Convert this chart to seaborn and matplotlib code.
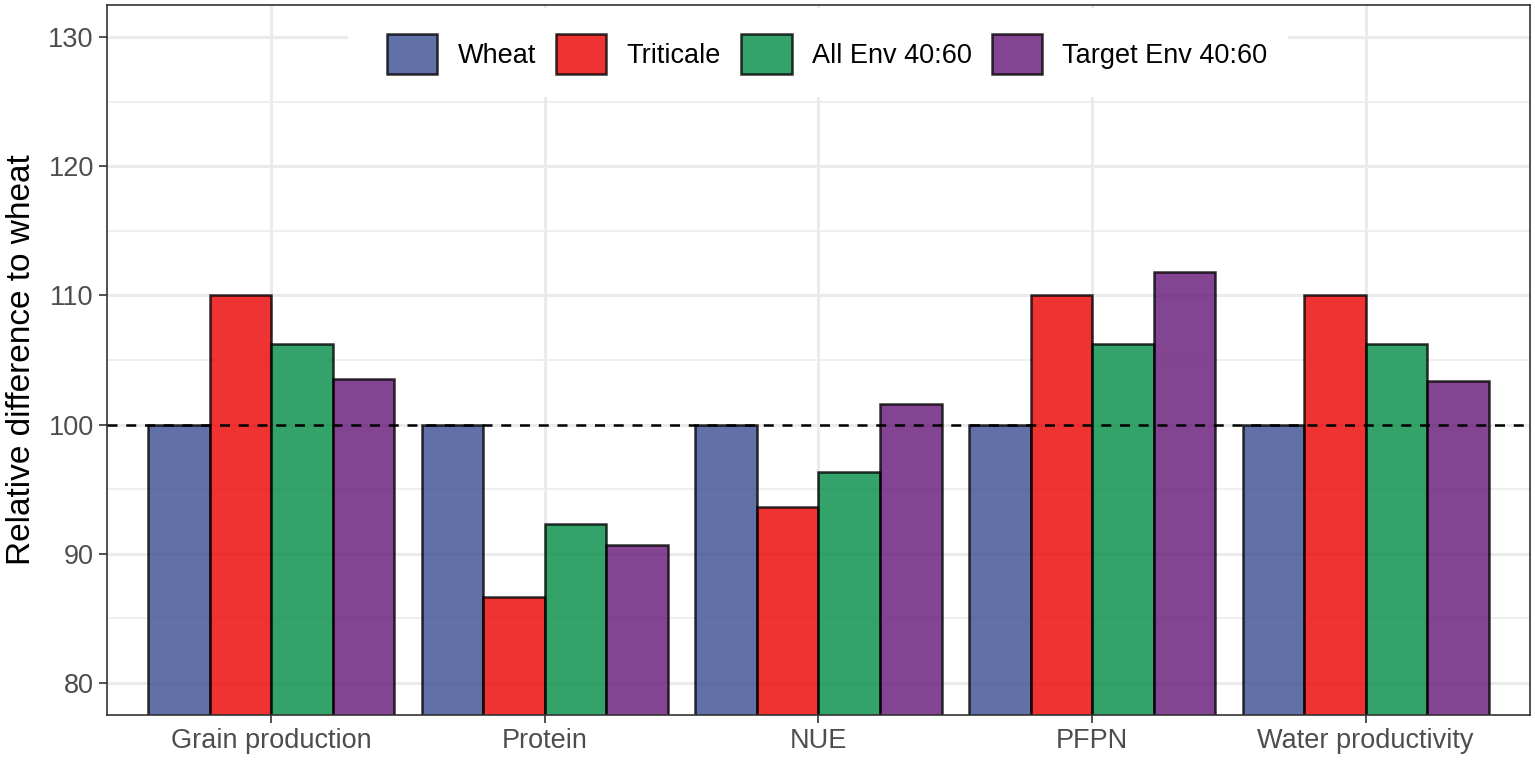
import pandas as pd
import numpy as np
import matplotlib.pyplot as plt
import seaborn as sns
from matplotlib.patches import Patch, Rectangle

# Values (relative to wheat = 100)
categories = ["Grain production", "Protein", "NUE", "PFPN", "Water productivity"]
groups = ["Wheat", "Triticale", "All Env 40:60", "Target Env 40:60"]
wheat = [100, 100, 100, 100, 100]
triticale = [110, 86.6, 93.6, 110, 110]
all_env = [106.2, 92.3, 96.3, 106.2, 106.2]
target_env = [103.5, 90.7, 101.6, 111.8, 103.4]

colors = ["#3B4C92", "#EC0000", "#008C45", "#641677"]

df = pd.DataFrame({
    "category": categories * 4,
    "group": np.repeat(groups, len(categories)),
    "value": wheat + triticale + all_env + target_env,
})

sns.set_style("white")
plt.rcParams["font.family"] = ["Liberation Sans", "DejaVu Sans"]

fig = plt.figure(figsize=(15.35, 7.63), dpi=100)
ax = fig.add_axes([0.0697, 0.063, 0.927, 0.9304])

sns.barplot(data=df, x="category", y="value", hue="group", order=categories,
            hue_order=groups, palette=colors, saturation=1, alpha=0.8, width=0.9,
            edgecolor="black", linewidth=1.8, ax=ax)

ax.set_ylim(77.5, 132.5)
ax.set_xlim(-0.6, 4.6)
ax.set_yticks([80, 90, 100, 110, 120, 130])
ax.set_yticks([85, 95, 105, 115, 125], minor=True)
ax.grid(True, which="major", color="#EBEBEB", linewidth=2.2)
ax.grid(True, which="minor", axis="y", color="#EBEBEB", linewidth=1.1)
ax.xaxis.grid(True, which="major", color="#EBEBEB", linewidth=2.2)
ax.set_axisbelow(True)

for p in ax.patches:
    p.set_edgecolor((0, 0, 0, 1))

ax.axhline(100, color="black", linestyle=(0, (4, 3.5)), linewidth=1.8, zorder=3)

ax.set_xlabel("")
ax.set_ylabel("Relative difference to wheat", fontsize=24, color="black", labelpad=8)
ax.tick_params(axis="both", which="major", labelsize=19.5, labelcolor="#4D4D4D",
               length=6, width=1.2, color="#333333", left=True, bottom=True)
ax.tick_params(axis="y", which="minor", length=0)
for s in ax.spines.values():
    s.set_color("#333333")
    s.set_linewidth(1.2)

# white legend background (ggplot legend box inside the panel)
ax.add_patch(Rectangle((0.1694, 0.8704), 0.6606, 0.1254, transform=ax.transAxes,
                       facecolor="white", edgecolor="none", zorder=4))

handles = [Patch(facecolor=c, alpha=0.8, edgecolor="black", linewidth=1.8) for c in colors]
for h in handles:
    h.set_edgecolor((0, 0, 0, 1))
leg = ax.legend(handles, groups, loc="center", bbox_to_anchor=(0.5063, 0.931),
                ncol=4, fontsize=19.5, frameon=False, labelcolor="black",
                handlelength=1.85, handleheight=1.85, handletextpad=0.75,
                columnspacing=0.75, borderpad=0.2)
leg.set_zorder(5)

fig.savefig("out.png", dpi=100)
